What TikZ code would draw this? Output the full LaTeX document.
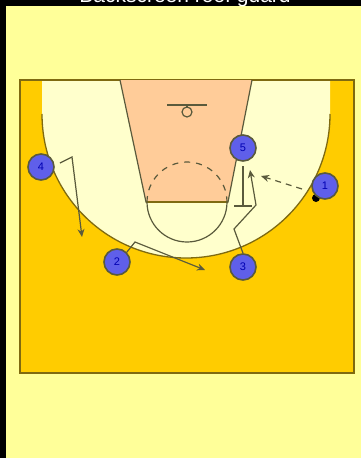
\documentclass[tikz,border=0pt]{standalone}
\usepackage{fontspec}
\setmainfont{Liberation Sans}
\usetikzlibrary{arrows.meta}
\definecolor{bgy}{HTML}{FFFF99}
\definecolor{court}{HTML}{FFCC00}
\definecolor{cream}{HTML}{FFFFCC}
\definecolor{lane}{HTML}{FFCC99}
\definecolor{edge}{HTML}{7F6A10}
\definecolor{pl}{HTML}{5F5FEA}
\definecolor{ln}{HTML}{5A5A3C}
\tikzset{
  x=1pt,y=-1pt,
  player/.style={circle,draw=ln,line width=1.6pt,fill=pl,minimum size=26pt,inner sep=0pt,text=blue!70!black,font=\fontsize{11}{11}\selectfont},
  mv/.style={draw=ln,line width=1.2pt,-{Stealth[length=8pt,width=7pt]}},
  lineq/.style={draw=ln,line width=1.2pt}
}
\begin{document}
\begin{tikzpicture}
\useasboundingbox (0,0) rectangle (361,458);
\fill[black] (0,0) rectangle (361,458);
\fill[bgy] (6,6) rectangle (361,458);
\node[text=white,font=\fontsize{21}{21}\selectfont,anchor=base] (title) at (185,2) {Backscreen roof guard};
\draw[edge,line width=1.4pt,fill=court] (20,80) rectangle (354,373);
\fill[cream] (42,80) -- (42,114) arc[start angle=180,end angle=360,x radius=144,y radius=-144] -- (330,80) -- cycle;
\draw[edge,line width=1.3pt] (42,114) arc[start angle=180,end angle=360,x radius=144,y radius=-144];
\draw[edge,line width=1.4pt] (20,80) -- (354,80);
\draw[ln,line width=1.2pt,fill=lane] (120,80) -- (146,202) -- (228,202) -- (252,80);
\draw[edge,line width=1.4pt] (146,202) -- (228,202);
\draw[ln,line width=1.2pt] (147,202) arc[start angle=180,end angle=360,x radius=40,y radius=-40];
\draw[ln,line width=1.2pt,dash pattern=on 6pt off 6pt] (147,202) arc[start angle=180,end angle=0,x radius=40,y radius=-40];
\draw[ln,line width=1.2pt] (167,105) -- (207,105);
\draw[ln,line width=1.2pt] (187,112) circle[radius=5];
\draw[ln,line width=1.2pt] (187,105) -- (187,107);
\fill[black] (316,198) circle[radius=4];
\node[player] (p5) at (243,148) {5};
\node[player] (p4) at (41,167) {4};
\node[player] (p1) at (325,186) {1};
\node[player] (p2) at (117,262) {2};
\node[player] (p3) at (243,267) {3};
\coordinate (s1) at (243,166);
\coordinate (s2) at (243,206);
\coordinate (sa) at (234,206);
\coordinate (sb) at (252,206);
\draw[lineq] (s1) -- (s2);
\draw[lineq] (sa) -- (sb);
\coordinate (a3) at (234,229);
\coordinate (b3) at (256,205);
\coordinate (c3) at (250,170);
\draw[mv] (p3.north) -- (a3) -- (b3) -- (c3);
\coordinate (d1) at (261,176);
\coordinate (e1) at (302,189);
\draw[mv,dash pattern=on 6pt off 5pt] (e1) -- (d1);
\coordinate (a4) at (72,157);
\coordinate (b4) at (82,237);
\coordinate (s4) at (60,163);
\draw[mv] (s4) -- (a4) -- (b4);
\coordinate (a2) at (135,242);
\coordinate (b2) at (205,270);
\draw[mv] (p2.north east) -- (a2) -- (b2);
\end{tikzpicture}
\end{document}
